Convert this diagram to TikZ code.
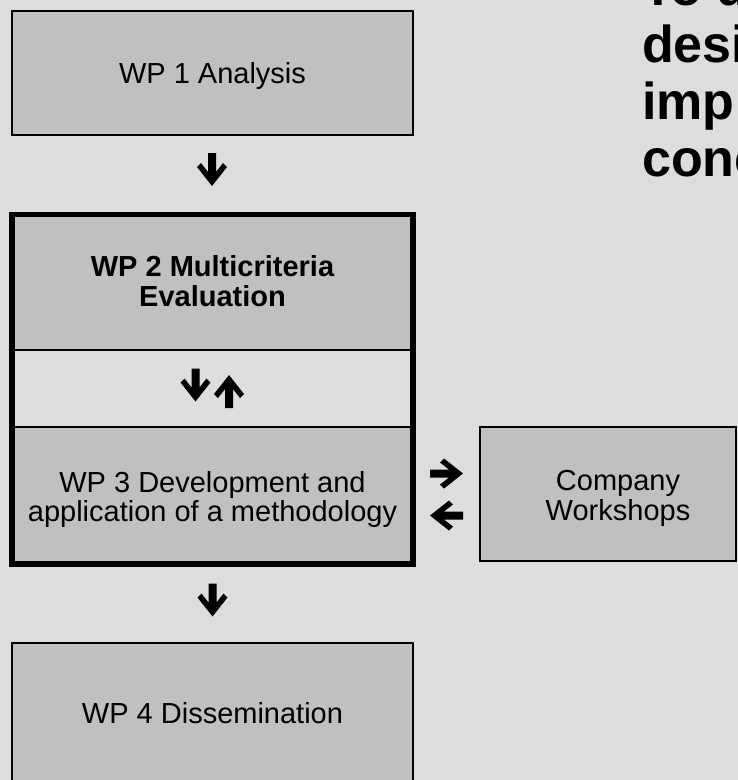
\documentclass[tikz,border=0pt]{standalone}
\usepackage{fontspec}
\setmainfont{Liberation Sans}
\definecolor{bg}{RGB}{221,221,221}
\definecolor{boxgray}{RGB}{192,192,192}
\definecolor{bandgray}{RGB}{222,222,222}
\tikzset{
  box/.style={draw=black, line width=2pt, fill=boxgray, inner sep=0pt},
  lbl/.style={font=\fontsize{29}{29.5}\selectfont, anchor=base, inner sep=0pt},
  blbl/.style={font=\fontsize{29}{29.5}\selectfont\bfseries, anchor=base, inner sep=0pt},
  ttl/.style={font=\fontsize{52}{57}\selectfont\bfseries, anchor=base west, inner sep=0pt},
  pics/garrow/.style={code={
    \fill[black] (16.5,0) -- (-2.5,15) -- (-6.5,11) -- (2.5,4) -- (-16.5,4) -- (-16.5,-4)
      -- (2.5,-4) -- (-6.5,-11) -- (-2.5,-15) -- cycle;}}
}
\begin{document}
\begin{tikzpicture}[x=1pt,y=-1pt]
\useasboundingbox (0,0) rectangle (738,780);
\clip (0,0) rectangle (738,780);
\fill[bg] (0,0) rectangle (738,780);

% boxes
\node[box, minimum width=401pt, minimum height=124pt] (wp1) at (212.5,73) {};
\node[box, minimum width=401pt, minimum height=135.5pt] (wp2) at (212.5,282.25) {};
\node[box, fill=bandgray, minimum width=401pt, minimum height=77pt] (band) at (212.5,388.5) {};
\node[box, minimum width=401pt, minimum height=137pt] (wp3) at (212.5,495.5) {};
\node[draw=black, line width=5.7pt, minimum width=400.8pt, minimum height=349.5pt, inner sep=0pt] (frame) at (212.6,389.25) {};
\node[box, minimum width=256pt, minimum height=134pt] (comp) at (608,494) {};
\node[box, minimum width=401pt, minimum height=142pt] (wp4) at (212.5,714) {};

% texts
\node[lbl] (t1) at (212.5,83) {WP 1 Analysis};
\node[blbl] (t2a) at (212.5,276.7) {WP 2 Multicriteria};
\node[blbl] (t2b) at (212.5,306) {Evaluation};
\node[lbl] (t3a) at (212.5,492.2) {WP 3 Development and};
\node[lbl] (t3b) at (212.5,521.7) {application of a methodology};
\node[lbl] (tca) at (618,490) {Company};
\node[lbl] (tcb) at (618,520) {Workshops};
\node[lbl] (t4) at (212.5,723) {WP 4 Dissemination};

% title (clipped at the right edge, as in the reference)
\node[ttl] (h1) at (642,5) {To d};
\node[ttl] (h2) at (642,62) {desi};
\node[ttl] (h3) at (642,119) {imp};
\node[ttl] (h4) at (642,176) {conc};

% arrows
\coordinate (a1) at (212,169.5);
\coordinate (a2d) at (195.5,385);
\coordinate (a2u) at (229,391.5);
\coordinate (a3r) at (446.5,473.5);
\coordinate (a3l) at (446.5,515.5);
\coordinate (a4) at (212.5,600);
\pic[rotate=-90] at (a1) {garrow};
\pic[rotate=-90] at (a2d) {garrow};
\pic[rotate=90] at (a2u) {garrow};
\pic at (a3r) {garrow};
\pic[rotate=180] at (a3l) {garrow};
\pic[rotate=-90] at (a4) {garrow};
\end{tikzpicture}
\end{document}
